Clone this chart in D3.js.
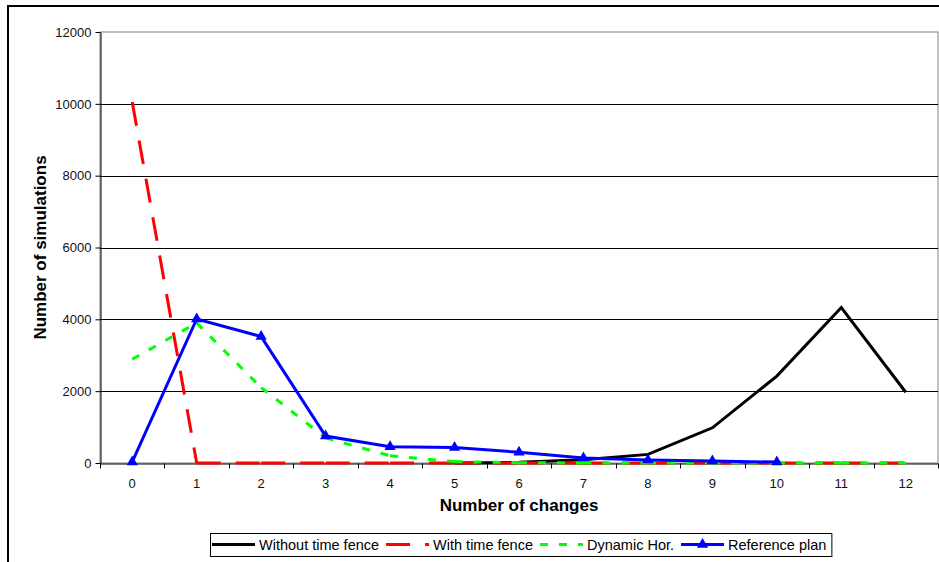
<!DOCTYPE html>
<html>
<head>
<meta charset="utf-8">
<script src="https://cdn.jsdelivr.net/npm/d3@7"></script>
<style>
  body { margin: 0; background: #fff; }
  text { font-family: Arial, "Liberation Sans", sans-serif; }
</style>
</head>
<body>
<svg id="chart" width="939" height="562"></svg>
<script>
// values
const categories = [0, 1, 2, 3, 4, 5, 6, 7, 8, 9, 10, 11, 12];
const yTicks = [0, 2000, 4000, 6000, 8000, 10000, 12000];

const withoutFence = [null, null, null, null, null, 0, 20, 90, 240, 980, 2420, 4330, 1970];
const withFence = [10050, 0, 0, 0, 0, 0, 0, 0, 0, 0, 0, 0, 0];
const dynamicHor = [2890, 3900, 2100, 700, 200, 40, 10, 0, 0, 0, 0, 0, 0];
const referencePlan = [30, 4010, 3520, 750, 450, 430, 300, 140, 85, 55, 25, null, null];

const series = [
  {name: 'Without time fence', values: withoutFence, color: '#000', dash: null, marker: false},
  {name: 'With time fence', values: withFence, color: '#ff0000', dash: '24,15', marker: false},
  {name: 'Dynamic Hor.', values: dynamicHor, color: '#00ff00', dash: '8,11', marker: false},
  {name: 'Reference plan', values: referencePlan, color: '#0000ff', dash: null, marker: true}
];

const plot = {left: 100, right: 938, top: 32, bottom: 463};

const svg = d3.select('#chart');

// outer chart frame (cropped: only top and left show)
svg.append('path')
  .attr('d', 'M8,562V6H939')
  .attr('fill', 'none')
  .attr('stroke', '#000')
  .attr('stroke-width', 2);

const xScale = d3.scaleBand()
  .domain(categories)
  .range([plot.left, plot.right])
  .padding(0);

const yScale = d3.scaleLinear()
  .domain([0, 12000])
  .range([plot.bottom, plot.top]);

// plot area border
svg.append('rect')
  .attr('x', plot.left)
  .attr('y', plot.top)
  .attr('width', plot.right - plot.left)
  .attr('height', plot.bottom - plot.top)
  .attr('fill', 'none')
  .attr('stroke', '#808080')
  .attr('stroke-width', 1);

// gridlines
svg.append('g')
  .selectAll('line')
  .data(yTicks.filter(d => d > 0 && d < 12000))
  .join('line')
    .attr('x1', plot.left)
    .attr('x2', plot.right)
    .attr('y1', d => Math.round(yScale(d)) + 0.5)
    .attr('y2', d => Math.round(yScale(d)) + 0.5)
    .attr('stroke', '#000')
    .attr('stroke-width', 1);

// y axis
const yAxis = svg.append('g')
  .attr('transform', `translate(${plot.left + 0.5}, 0)`)
  .call(d3.axisLeft(yScale).tickValues(yTicks).tickFormat(d3.format('d'))
    .tickSize(5).tickPadding(4).tickSizeOuter(0));
yAxis.select('.domain').attr('stroke', '#000');
yAxis.selectAll('text')
  .attr('font-family', 'Arial, "Liberation Sans", sans-serif')
  .attr('font-size', 13)
  .attr('fill', '#111');

// x axis: labels at centres, ticks between categories
const xAxis = svg.append('g')
  .attr('transform', `translate(0, ${plot.bottom + 0.5})`)
  .call(d3.axisBottom(xScale).tickSize(0).tickPadding(15));
xAxis.select('.domain').attr('stroke', '#000');
xAxis.selectAll('text')
  .attr('font-family', 'Arial, "Liberation Sans", sans-serif')
  .attr('font-size', 13)
  .attr('fill', '#111');

const bounds = categories.map(d => xScale(d)).concat([xScale.range()[1]]);
xAxis.append('g')
  .selectAll('line')
  .data(bounds)
  .join('line')
    .attr('x1', d => Math.round(d) + 0.5)
    .attr('x2', d => Math.round(d) + 0.5)
    .attr('y1', 0)
    .attr('y2', 5)
    .attr('stroke', '#000');

// lines
const line = d3.line()
  .defined(d => d.v != null)
  .x(d => xScale(d.c) + xScale.bandwidth() / 2)
  .y(d => yScale(d.v));

series.forEach(s => {
  const pts = categories.map((c, i) => ({c: c, v: s.values[i]}));
  // dashed series restart their pattern at every point, like the original
  const pieces = s.dash ? d3.pairs(pts) : [pts];
  svg.append('g')
    .selectAll('path')
    .data(pieces)
    .join('path')
      .attr('d', line)
      .attr('fill', 'none')
      .attr('stroke', s.color)
      .attr('stroke-width', 3)
      .attr('stroke-dasharray', s.dash)
      .attr('stroke-linejoin', 'miter');
  if (s.marker) {
    svg.append('g')
      .selectAll('path')
      .data(pts.filter(d => d.v != null))
      .join('path')
        .attr('d', d3.symbol(d3.symbolTriangle, 55))
        .attr('transform', d => `translate(${xScale(d.c) + xScale.bandwidth() / 2}, ${yScale(d.v)})`)
        .attr('fill', s.color);
  }
});

// axis titles
svg.append('text')
  .attr('transform', `translate(46, ${(plot.top + plot.bottom) / 2}) rotate(-90)`)
  .attr('text-anchor', 'middle')
  .attr('font-size', 17)
  .attr('font-weight', 'bold')
  .text('Number of simulations');

svg.append('text')
  .attr('x', (plot.left + plot.right) / 2)
  .attr('y', 511)
  .attr('text-anchor', 'middle')
  .attr('font-size', 17)
  .attr('font-weight', 'bold')
  .text('Number of changes');

// legend
const legend = svg.append('g');
const legX = 210, legY = 533, legH = 23;
const legBox = legend.append('rect')
  .attr('x', legX + 0.5)
  .attr('y', legY + 0.5)
  .attr('height', legH)
  .attr('fill', '#fff')
  .attr('stroke', '#000');

let cx = legX + 2;
series.forEach(s => {
  const ly = legY + 11.5;
  legend.append('line')
    .attr('x1', cx)
    .attr('x2', cx + 43)
    .attr('y1', ly)
    .attr('y2', ly)
    .attr('stroke', s.color)
    .attr('stroke-width', 3)
    .attr('stroke-dasharray', s.dash);
  if (s.marker) {
    legend.append('path')
      .attr('d', d3.symbol(d3.symbolTriangle, 55))
      .attr('transform', `translate(${cx + 21.5}, ${ly})`)
      .attr('fill', s.color);
  }
  const t = legend.append('text')
    .attr('x', cx + 47)
    .attr('y', legY + 16.5)
    .attr('font-size', 14.5)
    .text(s.name);
  cx = cx + 47 + t.node().getComputedTextLength() + 7;
});
legBox.attr('width', cx - legX - 2);
</script>
</body>
</html>
